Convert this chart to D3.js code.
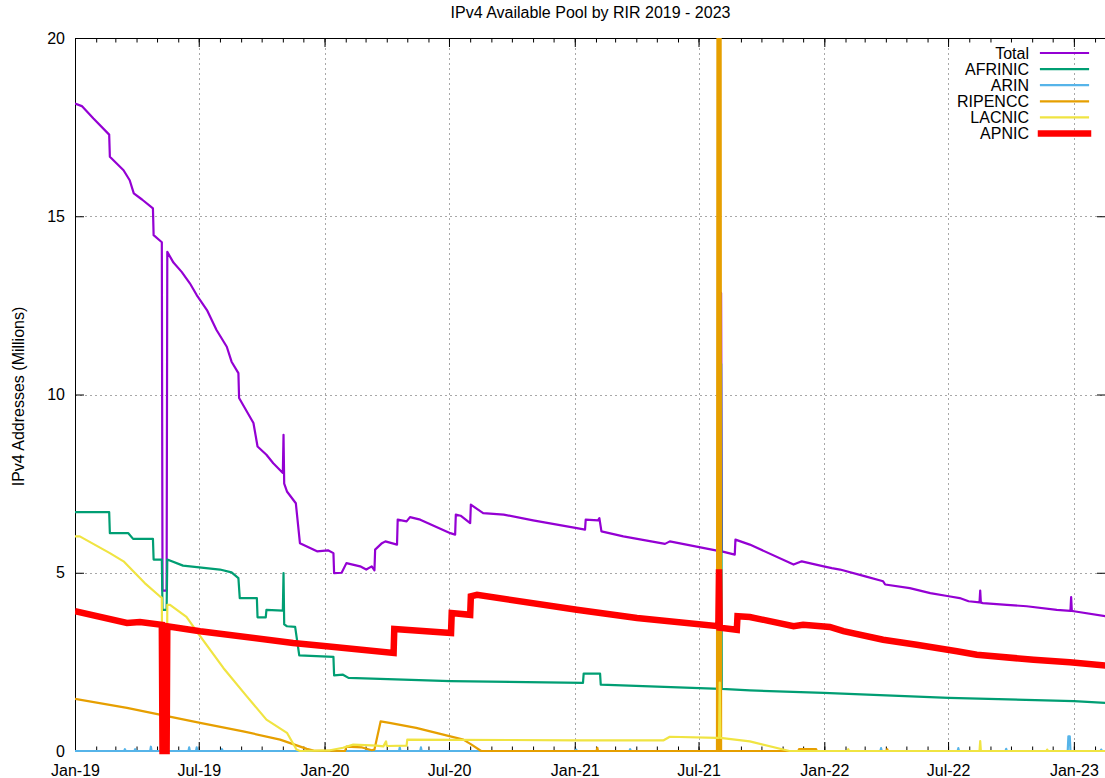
<!DOCTYPE html>
<html><head><meta charset="utf-8">
<script src="https://cdn.jsdelivr.net/npm/d3@7"></script>
<style>
body{margin:0;background:#fff;}
svg text{font-family:"Liberation Sans",Arial,sans-serif;}
</style>
</head><body>
<svg id="c" width="1105" height="778"></svg>
<script>
const titleText = "IPv4 Available Pool by RIR 2019 - 2023";
const yLabelText = "IPv4 Addresses (Millions)";
const seriesNames = ["Total","AFRINIC","ARIN","RIPENCC","LACNIC","APNIC"];
const yTicks = [0,5,10,15,20];
const xDomain = ["2019-01-01","2023-02-17"];

const total = [["2019-01-01",18.16],["2019-01-11",18.09],["2019-01-28",17.74],["2019-02-20",17.29],["2019-02-21",16.67],["2019-03-13",16.29],["2019-03-22",16.01],["2019-03-28",15.64],["2019-04-09",15.47],["2019-04-25",15.22],["2019-04-26",14.47],["2019-05-08",14.27],["2019-05-09",4.5],["2019-05-15",4.5],["2019-05-16",14.0],["2019-05-25",13.7],["2019-06-06",13.44],["2019-06-18",13.12],["2019-06-28",12.79],["2019-07-13",12.37],["2019-07-27",11.81],["2019-08-11",11.34],["2019-08-18",10.92],["2019-08-28",10.6],["2019-08-29",9.9],["2019-09-19",9.2],["2019-09-25",8.54],["2019-10-08",8.31],["2019-10-18",8.07],["2019-11-01",7.8],["2019-11-02",8.87],["2019-11-03",7.5],["2019-11-07",7.28],["2019-11-20",6.95],["2019-11-26",5.83],["2019-12-21",5.6],["2020-01-06",5.63],["2020-01-14",5.55],["2020-01-15",4.99],["2020-01-26",5.0],["2020-02-02",5.27],["2020-02-22",5.18],["2020-03-02",5.09],["2020-03-10",5.18],["2020-03-14",5.07],["2020-03-15",5.65],["2020-03-25",5.83],["2020-03-30",5.88],["2020-04-16",5.79],["2020-04-17",6.49],["2020-04-30",6.44],["2020-05-05",6.56],["2020-05-20",6.49],["2020-07-03",6.11],["2020-07-10",6.07],["2020-07-11",6.63],["2020-07-18",6.6],["2020-08-01",6.39],["2020-08-02",6.91],["2020-08-20",6.67],["2020-09-19",6.63],["2020-11-01",6.47],["2021-01-04",6.25],["2021-01-16",6.21],["2021-01-17",6.49],["2021-02-04",6.47],["2021-02-06",6.53],["2021-02-09",6.16],["2021-03-13",6.02],["2021-05-13",5.81],["2021-05-20",5.88],["2021-07-28",5.62],["2021-08-02",5.61],["2021-08-03",12.85],["2021-08-04",5.6],["2021-08-23",5.51],["2021-08-24",5.93],["2021-09-14",5.79],["2021-11-17",5.23],["2021-11-29",5.32],["2021-12-31",5.18],["2022-01-12",5.13],["2022-01-24",5.09],["2022-03-02",4.9],["2022-03-28",4.76],["2022-03-31",4.67],["2022-05-06",4.57],["2022-06-05",4.43],["2022-07-02",4.34],["2022-07-18",4.29],["2022-07-31",4.2],["2022-08-16",4.17],["2022-08-17",4.5],["2022-08-18",4.16],["2022-08-21",4.15],["2022-09-25",4.1],["2022-10-24",4.06],["2022-12-07",3.96],["2022-12-27",3.93],["2022-12-28",4.32],["2022-12-29",3.93],["2023-01-01",3.92],["2023-02-16",3.78]];

const afrinic = [["2019-01-01",6.7],["2019-02-20",6.7],["2019-02-21",6.11],["2019-03-20",6.11],["2019-03-27",5.95],["2019-04-25",5.95],["2019-04-26",5.37],["2019-05-08",5.37],["2019-05-09",3.96],["2019-05-15",3.96],["2019-05-16",5.37],["2019-06-08",5.2],["2019-08-01",5.09],["2019-08-18",5.01],["2019-08-28",4.85],["2019-08-30",4.29],["2019-09-24",4.29],["2019-09-25",3.75],["2019-10-07",3.75],["2019-10-08",3.96],["2019-11-01",3.94],["2019-11-02",4.99],["2019-11-03",3.55],["2019-11-07",3.5],["2019-11-19",3.48],["2019-11-25",2.68],["2020-01-14",2.64],["2020-01-15",2.12],["2020-01-28",2.14],["2020-02-05",2.05],["2020-07-03",1.96],["2021-01-13",1.91],["2021-01-14",2.17],["2021-02-07",2.17],["2021-02-08",1.86],["2021-08-02",1.74],["2021-08-03",10.86],["2021-08-04",1.74],["2021-09-14",1.7],["2021-12-31",1.63],["2022-07-02",1.49],["2023-01-01",1.4],["2023-02-16",1.35]];

const arin = [["2019-01-01",0],["2019-03-14",0],["2019-03-15",0.05],["2019-03-16",0],["2019-03-29",0],["2019-03-30",0.05],["2019-03-31",0],["2019-04-21",0],["2019-04-22",0.12],["2019-04-23",0],["2019-06-16",0],["2019-06-17",0.1],["2019-06-18",0],["2019-06-27",0],["2019-06-28",0.1],["2019-06-29",0],["2019-08-03",0],["2019-08-04",0.05],["2019-08-05",0],["2020-04-19",0],["2020-04-20",0.1],["2020-04-21",0],["2020-05-20",0],["2020-05-21",0.1],["2020-05-22",0],["2021-01-02",0],["2021-01-03",0.04],["2021-01-04",0],["2021-03-22",0],["2021-03-23",0.05],["2021-03-24",0],["2022-03-24",0],["2022-03-25",0.08],["2022-03-26",0],["2022-07-15",0],["2022-07-16",0.08],["2022-07-17",0],["2022-09-23",0],["2022-09-24",0.06],["2022-09-25",0],["2022-12-23",0],["2022-12-24",0.41],["2022-12-26",0.41],["2022-12-27",0],["2023-02-09",0],["2023-02-10",0.04],["2023-02-11",0],["2023-02-16",0]];

const ripencc = [["2019-01-01",1.46],["2019-03-18",1.21],["2019-05-05",1.02],["2019-07-03",0.79],["2019-09-04",0.55],["2019-10-28",0.32],["2019-12-06",0.06],["2019-12-16",0.01],["2020-01-31",0],["2020-02-02",0.12],["2020-02-25",0.1],["2020-03-10",0.02],["2020-03-14",0.04],["2020-03-23",0.83],["2020-04-05",0.79],["2020-05-14",0.65],["2020-07-03",0.41],["2020-07-22",0.32],["2020-08-03",0.18],["2020-08-17",0],["2021-02-02",0],["2021-02-03",0.09],["2021-02-04",0],["2021-07-28",0],["2021-07-29",30],["2021-07-30",0],["2021-07-31",30],["2021-08-01",0],["2021-08-02",30],["2021-08-03",0],["2021-11-24",0],["2021-11-25",0.05],["2021-12-20",0.05],["2021-12-21",0],["2022-04-02",0],["2022-04-03",0.05],["2022-04-04",0],["2023-02-16",0]];

const lacnic = [["2019-01-01",6.02],["2019-01-08",6.02],["2019-02-21",5.55],["2019-03-13",5.32],["2019-04-13",4.71],["2019-05-05",4.34],["2019-05-08",4.3],["2019-05-09",0],["2019-05-15",0],["2019-05-16",4.1],["2019-05-20",4.1],["2019-06-13",3.76],["2019-07-03",3.22],["2019-08-06",2.33],["2019-09-09",1.54],["2019-10-08",0.88],["2019-11-07",0.51],["2019-11-21",0.04],["2019-11-26",0],["2020-01-09",0.02],["2020-01-28",0.09],["2020-02-12",0.18],["2020-03-17",0.15],["2020-03-27",0.13],["2020-03-31",0.27],["2020-04-01",0.14],["2020-04-30",0.15],["2020-05-01",0.32],["2021-01-04",0.3],["2021-05-11",0.3],["2021-05-20",0.4],["2021-07-28",0.37],["2021-07-31",0.37],["2021-08-01",1.92],["2021-08-02",0.37],["2021-09-14",0.27],["2021-11-11",0],["2022-02-04",0],["2022-02-05",0.05],["2022-02-06",0],["2022-08-16",0],["2022-08-17",0.28],["2022-08-18",0],["2022-11-22",0],["2022-11-23",0.04],["2022-11-24",0],["2023-02-16",0]];

const apnic = [["2019-01-01",3.92],["2019-03-18",3.59],["2019-04-06",3.62],["2019-05-08",3.54],["2019-05-09",0],["2019-05-15",0],["2019-05-16",3.5],["2019-07-03",3.36],["2019-11-16",3.03],["2020-01-04",2.94],["2020-04-11",2.75],["2020-04-12",3.42],["2020-07-04",3.31],["2020-07-05",3.87],["2020-08-01",3.82],["2020-08-02",4.34],["2020-08-11",4.38],["2021-01-04",3.96],["2021-04-02",3.73],["2021-07-30",3.5],["2021-07-31",5.1],["2021-08-01",3.46],["2021-08-26",3.4],["2021-08-27",3.78],["2021-09-14",3.76],["2021-11-17",3.5],["2021-12-01",3.54],["2022-01-09",3.48],["2022-01-29",3.36],["2022-03-28",3.12],["2022-05-16",2.98],["2022-07-14",2.8],["2022-08-12",2.7],["2022-11-03",2.56],["2022-12-26",2.49],["2023-02-16",2.4]];

const seriesData = [total, afrinic, arin, ripencc, lacnic, apnic];

// ---- styles (not data) ----
const colors = ["#9400d3","#009e73","#56b4e9","#e69f00","#f0e442","#ff0000"];
const widths = [2.2,2.2,2.2,2.2,2.2,6.5];
const FONT = 16;

const parse = d3.timeParse("%Y-%m-%d");
const L = 75, R = 1106, T = 38, B = 751;
const x = d3.scaleTime().domain(xDomain.map(parse)).range([L, R]);
const y = d3.scaleLinear().domain([0, 20]).range([B, T]);

const svg = d3.select("#c");
svg.append("rect").attr("width",1105).attr("height",778).attr("fill","#fff");
svg.append("defs").append("clipPath").attr("id","clip")
  .append("rect").attr("x", L).attr("y", T).attr("width", R - L).attr("height", B - T + 8);

// title
svg.append("text").attr("x", (L + R) / 2).attr("y", 18).attr("text-anchor","middle")
  .style("font-size", FONT + "px").text(titleText);

// y label
svg.append("text").attr("transform", `translate(24,${(T + B) / 2 + 2}) rotate(-90)`)
  .attr("text-anchor","middle").style("font-size", FONT + "px").text(yLabelText);

// grid
const majorDates = d3.timeMonth.every(6).range(x.domain()[0], x.domain()[1]);
const minorDates = d3.timeMonth.every(1).range(x.domain()[0], x.domain()[1]);
const grid = svg.append("g").attr("stroke","#a8a8a8").attr("stroke-width",1).attr("stroke-dasharray","2,3");
grid.selectAll("line.v").data(majorDates.slice(1)).enter().append("line")
  .attr("x1", d => Math.round(x(d)) + 0.5).attr("x2", d => Math.round(x(d)) + 0.5)
  .attr("y1", T).attr("y2", B);
grid.selectAll("line.h").data(yTicks.filter(v => v > 0 && v < 20)).enter().append("line")
  .attr("y1", d => Math.round(y(d)) + 0.5).attr("y2", d => Math.round(y(d)) + 0.5)
  .attr("x1", L).attr("x2", R);

const fmt = d3.timeFormat("%b-%y");
function styleAxis(g){
  g.selectAll("text").style("font-size", FONT + "px").style("font-family","'Liberation Sans',Arial,sans-serif").attr("fill","#000");
  g.selectAll("line").attr("stroke","#000");
  g.select(".domain").attr("stroke","#000");
}
// bottom axis major + minor
svg.append("g").attr("transform",`translate(0,${B})`)
  .call(d3.axisBottom(x).tickValues(minorDates).tickSize(-4.5).tickSizeOuter(0).tickFormat(""))
  .call(styleAxis);
svg.append("g").attr("transform",`translate(0,${B})`)
  .call(d3.axisBottom(x).tickValues(majorDates).tickSize(-9).tickSizeOuter(0).tickPadding(14).tickFormat(fmt))
  .call(styleAxis);
// top axis
svg.append("g").attr("transform",`translate(0,${T})`)
  .call(d3.axisTop(x).tickValues(minorDates).tickSize(-4.5).tickSizeOuter(0).tickFormat(""))
  .call(styleAxis);
svg.append("g").attr("transform",`translate(0,${T})`)
  .call(d3.axisTop(x).tickValues(majorDates).tickSize(-9).tickSizeOuter(0).tickFormat(""))
  .call(styleAxis);
// left & right axes
svg.append("g").attr("transform",`translate(${L},0)`)
  .call(d3.axisLeft(y).tickValues(yTicks).tickSize(-9).tickSizeOuter(0).tickPadding(10).tickFormat(d3.format("d")))
  .call(styleAxis);
svg.append("g").attr("transform",`translate(${R},0)`)
  .call(d3.axisRight(y).tickValues(yTicks).tickSize(-9).tickSizeOuter(0).tickFormat(""))
  .call(styleAxis);

// lines
const line = d3.line().x(d => x(parse(d[0]))).y(d => y(d[1]));
const lines = svg.append("g").attr("clip-path","url(#clip)");
seriesData.forEach((s, i) => {
  lines.append("path").datum(s).attr("d", line)
    .attr("fill","none").attr("stroke", colors[i]).attr("stroke-width", widths[i])
    .attr("stroke-linejoin", i === 5 ? "miter" : "round");
});

// legend
const leg = svg.append("g");
seriesNames.forEach((n, i) => {
  const yy = 53 + i * 16.1;
  leg.append("text").attr("x", 1029).attr("y", yy).attr("dy","0.35em").attr("text-anchor","end")
    .style("font-size", FONT + "px").text(n);
  leg.append("line").attr("x1", 1041).attr("x2", 1088).attr("y1", yy).attr("y2", yy)
    .attr("stroke", colors[i]).attr("stroke-width", widths[i]).attr("stroke-linecap","square");
});
</script>
</body></html>
